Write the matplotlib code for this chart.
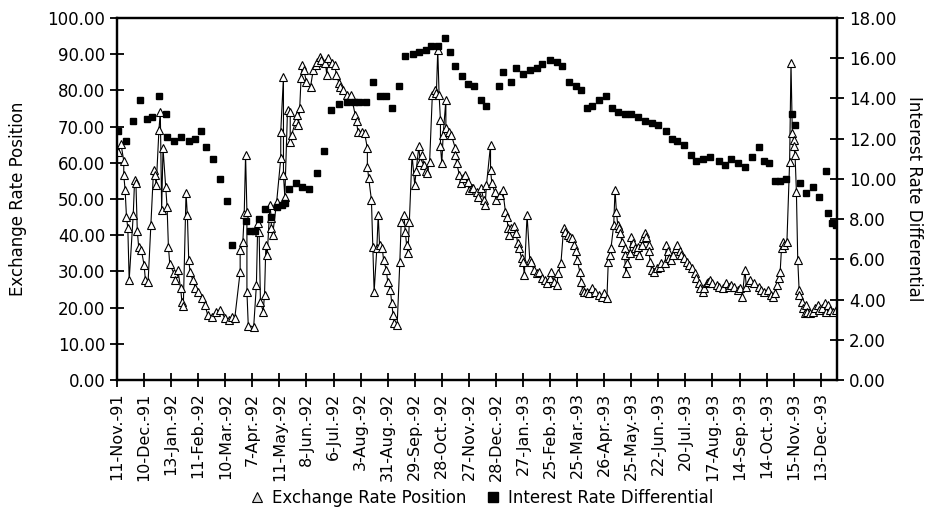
import numpy as np
import matplotlib as mpl
mpl.use('Agg')
import matplotlib.pyplot as plt
from matplotlib.lines import Line2D

# trading-day index (20 per tick interval) and values
ex_day = [1, 3, 5, 5, 6, 7, 8, 9, 12, 13, 14, 15, 16, 18, 20, 21, 23, 25, 27, 28,
          29, 31, 32, 33, 34, 36, 37, 38, 39, 42, 43, 45, 47, 48, 49, 51, 52, 53, 54, 56,
          58, 60, 63, 65, 67, 70, 73, 76, 80, 83, 85, 87, 91, 91, 93, 94, 95, 96, 96, 97,
          101, 103, 104, 105, 106, 108, 109, 110, 111, 113, 114, 114, 115, 118, 121, 121, 123, 123, 124, 126,
          128, 128, 129, 132, 133, 134, 135, 136, 137, 138, 140, 143, 145, 147, 148, 150, 151, 154, 155, 156,
          159, 161, 162, 164, 165, 167, 170, 172, 173, 176, 177, 178, 181, 183, 185, 185, 186, 188, 189, 190,
          192, 193, 194, 196, 197, 199, 200, 202, 203, 204, 205, 207, 209, 210, 212, 213, 214, 215, 216, 218,
          220, 221, 223, 224, 225, 227, 228, 229, 231, 233, 235, 236, 237, 238, 239, 239, 240, 241, 243, 243,
          245, 247, 250, 250, 251, 253, 254, 256, 257, 259, 260, 262, 263, 266, 267, 269, 271, 272, 273, 276,
          276, 277, 279, 280, 283, 285, 287, 288, 289, 290, 291, 293, 295, 296, 297, 299, 300, 301, 303, 305,
          306, 308, 310, 312, 314, 316, 318, 320, 321, 323, 325, 326, 328, 330, 331, 333, 335, 336, 338, 339,
          340, 342, 343, 344, 345, 347, 349, 351, 353, 356, 358, 360, 362, 363, 364, 365, 367, 368, 369, 370,
          371, 372, 373, 375, 375, 376, 377, 379, 380, 381, 383, 384, 385, 386, 388, 389, 390, 391, 393, 393,
          394, 395, 397, 399, 401, 402, 405, 406, 407, 408, 409, 411, 413, 414, 416, 417, 419, 421, 423, 425,
          427, 428, 430, 431, 433, 434, 436, 437, 438, 440, 443, 445, 448, 450, 452, 454, 456, 459, 460, 462,
          464, 465, 467, 468, 471, 474, 476, 478, 481, 483, 485, 486, 488, 489, 490, 491, 492, 493, 495, 497,
          498, 499, 500, 500, 501, 502, 503, 504, 504, 506, 507, 508, 509, 510, 512, 514, 516, 518, 519, 521,
          523, 524, 525, 527, 529, 531]
ex_val = [63.0, 65.1, 60.5, 56.6, 52.5, 45.1, 41.9, 27.6, 45.6, 55.2, 54.3, 41.2, 36.8, 35.9, 31.8, 27.6, 27.2, 42.8, 58.0, 56.6,
          53.9, 69.1, 74.1, 47.0, 64.0, 53.4, 47.9, 36.8, 32.0, 29.5, 27.6, 30.4, 25.3, 21.6, 20.3, 51.6, 45.6, 33.1, 29.9, 27.6,
          25.3, 24.4, 22.7, 20.7, 18.0, 17.5, 18.9, 19.3, 17.0, 16.6, 17.5, 17.0, 29.9, 35.9, 38.2, 45.8, 62.2, 46.5, 24.4, 15.0,
          14.7, 26.2, 43.3, 41.0, 21.6, 18.9, 23.5, 37.3, 34.5, 48.3, 44.7, 41.9, 40.1, 49.3, 61.2, 68.6, 83.8, 56.6, 50.6, 74.6,
          74.1, 65.8, 67.7, 71.4, 73.2, 70.4, 75.0, 83.3, 87.0, 85.6, 82.4, 81.0, 85.6, 87.0, 87.9, 89.3, 88.4, 87.5, 84.3, 88.9,
          87.5, 87.0, 84.3, 82.0, 81.0, 80.1, 78.7, 77.8, 78.7, 73.2, 71.4, 68.6, 68.6, 68.1, 64.0, 58.9, 55.7, 49.7, 36.8, 24.4,
          36.4, 45.6, 37.3, 36.4, 33.1, 30.4, 27.2, 24.9, 21.2, 18.0, 15.7, 15.2, 32.7, 43.7, 45.6, 41.0, 37.3, 35.0, 43.7, 62.2,
          53.9, 57.6, 64.5, 60.3, 62.2, 59.4, 57.6, 57.1, 60.3, 78.7, 80.1, 79.2, 91.2, 78.7, 71.8, 64.5, 59.9, 67.7, 77.3, 69.5,
          68.6, 67.7, 64.0, 62.2, 59.9, 56.6, 54.3, 55.7, 56.6, 54.8, 52.5, 52.9, 52.9, 52.0, 50.6, 52.9, 49.7, 48.3, 53.9, 64.9,
          58.0, 54.3, 52.0, 49.7, 51.1, 52.5, 46.5, 45.1, 41.9, 40.1, 41.9, 42.4, 40.5, 37.8, 36.4, 33.6, 32.7, 29.0, 45.6, 33.1,
          32.7, 30.4, 29.5, 29.9, 28.1, 27.6, 26.7, 28.1, 29.9, 27.2, 26.2, 29.5, 32.2, 41.9, 41.0, 40.1, 39.6, 39.1, 37.3, 35.5,
          33.1, 29.9, 27.2, 24.9, 24.4, 24.4, 23.9, 25.3, 24.4, 23.5, 23.0, 23.9, 22.6, 32.7, 34.5, 36.4, 42.8, 52.5, 46.5, 42.8,
          41.9, 40.5, 38.2, 36.4, 34.5, 29.5, 32.2, 35.0, 39.6, 37.8, 36.4, 35.5, 36.8, 34.5, 37.3, 39.1, 40.5, 39.6, 37.3, 35.5,
          32.7, 30.4, 29.9, 30.8, 31.3, 32.2, 32.2, 37.3, 35.5, 33.6, 33.1, 34.5, 36.4, 37.3, 35.5, 34.5, 33.6, 32.7, 31.8, 30.8,
          29.5, 28.1, 26.7, 25.3, 24.4, 25.3, 26.7, 27.2, 27.6, 26.7, 26.2, 25.8, 25.3, 26.7, 25.8, 26.2, 25.8, 24.9, 25.3, 23.0,
          30.4, 25.8, 27.2, 27.6, 26.7, 25.8, 24.9, 24.4, 24.9, 23.5, 23.0, 23.9, 26.2, 28.1, 29.9, 36.4, 38.2, 37.3, 38.2, 60.3,
          87.5, 68.1, 66.3, 64.5, 62.2, 52.0, 33.1, 24.9, 23.5, 21.6, 19.8, 18.4, 20.7, 18.9, 18.4, 18.9, 19.8, 20.7, 19.3, 19.8,
          21.2, 18.9, 20.7, 19.3, 18.9, 19.3]

ir_day = [1, 7, 12, 17, 22, 26, 31, 36, 37, 42, 47, 53, 58, 62, 66, 71, 76, 81, 85, 95,
          98, 102, 105, 109, 114, 118, 122, 124, 127, 132, 137, 142, 148, 153, 158, 164, 170, 175, 179, 184,
          189, 194, 199, 203, 208, 213, 219, 223, 228, 232, 237, 242, 246, 250, 255, 259, 264, 269, 273, 282,
          285, 291, 295, 300, 305, 310, 314, 320, 325, 329, 334, 339, 343, 347, 351, 356, 361, 366, 370, 375,
          380, 385, 390, 395, 400, 406, 410, 414, 419, 424, 428, 433, 438, 445, 449, 454, 459, 464, 469, 474,
          478, 482, 486, 490, 494, 499, 501, 505, 509, 514, 519, 524, 525, 528, 531]
ir_val = [12.4, 11.9, 12.9, 13.9, 13.0, 13.1, 14.1, 13.2, 12.1, 11.9, 12.1, 11.9, 12.0, 12.4, 11.6, 11.0, 10.0, 8.9, 6.7, 7.9,
          7.4, 7.4, 8.0, 8.5, 8.1, 8.6, 8.7, 8.8, 9.5, 9.8, 9.6, 9.5, 10.3, 11.4, 13.4, 13.7, 13.8, 13.8, 13.8, 13.8,
          14.8, 14.1, 14.1, 13.5, 14.6, 16.1, 16.2, 16.3, 16.4, 16.6, 16.6, 17.0, 16.3, 15.6, 15.1, 14.7, 14.6, 13.9, 13.6, 14.6,
          15.3, 14.8, 15.5, 15.2, 15.4, 15.5, 15.7, 15.9, 15.8, 15.6, 14.8, 14.6, 14.4, 13.5, 13.6, 13.9, 14.1, 13.5, 13.3, 13.2,
          13.2, 13.1, 12.9, 12.8, 12.7, 12.4, 12.0, 11.9, 11.7, 11.2, 10.9, 11.0, 11.1, 10.9, 10.7, 11.0, 10.8, 10.6, 11.1, 11.6,
          10.9, 10.8, 9.9, 9.9, 10.0, 13.2, 12.7, 9.8, 9.3, 9.6, 9.1, 10.4, 8.3, 7.8, 7.7]

tick_labels = ['11-Nov.-91', '10-Dec.-91', '13-Jan.-92', '11-Feb.-92', '10-Mar.-92', '7-Apr.-92',
               '11-May.-92', '8-Jun.-92', '6-Jul.-92', '3-Aug.-92', '31-Aug.-92', '29-Sep.-92',
               '28-Oct.-92', '27-Nov.-92', '28-Dec.-92', '27-Jan.-93', '25-Feb.-93', '25-Mar.-93',
               '26-Apr.-93', '25-May.-93', '22-Jun.-93', '20-Jul.-93', '17-Aug.-93', '14-Sep.-93',
               '14-Oct.-93', '15-Nov.-93', '13-Dec.-93']

plt.rcParams['font.family'] = ['DejaVu Sans']

fig = plt.figure(figsize=(9.3, 5.16), dpi=100)
ax = fig.add_axes([0.1258, 0.2636, 0.7742, 0.7016])
ax2 = ax.twinx()

ax.plot(ex_day, ex_val, color='black', lw=0.8, marker='^', ms=5.2,
        mfc='white', mec='black', mew=0.8, zorder=3)
ax2.plot(ir_day, ir_val, ls='none', marker='s', ms=5, color='black')

ax.set_xlim(0, 532)
ax.set_ylim(0, 100)
ax2.set_ylim(0, 18)
ax.set_xticks(np.arange(0, 20 * len(tick_labels), 20))
ax.set_xticklabels(tick_labels, rotation=90, fontsize=11.5)
ax.set_yticks(np.arange(0, 101, 10))
ax.set_yticklabels(['%.2f' % v for v in np.arange(0, 101, 10)], fontsize=12)
ax2.set_yticks(np.arange(0, 19, 2))
ax2.set_yticklabels(['%.2f' % v for v in np.arange(0, 19, 2)], fontsize=12)

for a in (ax, ax2):
    for s in a.spines.values():
        s.set_linewidth(1.6)
    a.tick_params(direction='inout', length=10, width=1.3)
ax.tick_params(axis='x', pad=4)

ax.set_ylabel('Exchange Rate Position', fontsize=12)
ax.yaxis.set_label_coords(-0.125, 0.5)
ax2.set_ylabel('Interest Rate Differential', fontsize=12, rotation=270, va='bottom')
ax2.yaxis.set_label_coords(1.095, 0.5)

handles = [Line2D([], [], ls='none', marker='^', ms=7, mfc='#dddddd', mec='black', mew=0.8),
           Line2D([], [], ls='none', marker='s', ms=7, color='black')]
fig.legend(handles, ['Exchange Rate Position', 'Interest Rate Differential'],
           loc='lower center', bbox_to_anchor=(0.516, -0.012), ncol=2, frameon=False,
           fontsize=12, handletextpad=0.3, columnspacing=1.0, handlelength=1.2)

fig.savefig('out.png', dpi=100)
